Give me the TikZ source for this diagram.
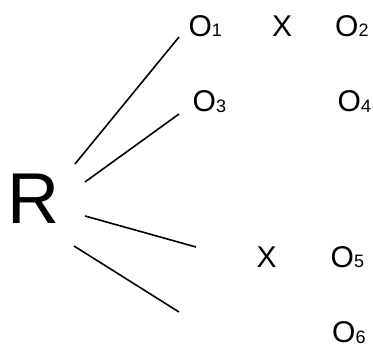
\documentclass[tikz,border=0pt]{standalone}
\usepackage{fontspec}
\setmainfont{Liberation Sans}
\begin{document}
\begin{tikzpicture}[x=1pt,y=1pt,
  lbl/.style={anchor=base west,inner sep=0pt,font=\fontsize{30}{30}\selectfont},
  link/.style={line width=1.6pt}]
\useasboundingbox (0,0) rectangle (373,348);
\newcommand{\Osub}[1]{O{\fontsize{18}{18}\selectfont\raisebox{-0.5pt}{#1}}}
\node[anchor=base west,inner sep=0pt,font=\fontsize{72}{72}\selectfont] (R) at (7,124.7) {R};
\node[lbl] (o1) at (188.3,311.5) {\Osub{1}};
\node[lbl] (x1) at (272,311.5) {X};
\node[lbl] (o2) at (335,311.5) {\Osub{2}};
\node[lbl] (o3) at (192.5,236) {\Osub{3}};
\node[lbl] (o4) at (337.5,236) {\Osub{4}};
\node[lbl] (x2) at (256.5,80.5) {X};
\node[lbl] (o5) at (330.5,80.5) {\Osub{5}};
\node[lbl] (o6) at (332,5) {\Osub{6}};
\coordinate (a1) at (75,184);  \coordinate (b1) at (179,311);
\coordinate (a2) at (85,166);  \coordinate (b2) at (179,234);
\coordinate (a3) at (85,132);  \coordinate (b3) at (196,101);
\coordinate (a4) at (74,102);  \coordinate (b4) at (179,36);
\draw[link] (a1) -- (b1);
\draw[link] (a2) -- (b2);
\draw[link] (a3) -- (b3);
\draw[link] (a4) -- (b4);
\end{tikzpicture}
\end{document}
